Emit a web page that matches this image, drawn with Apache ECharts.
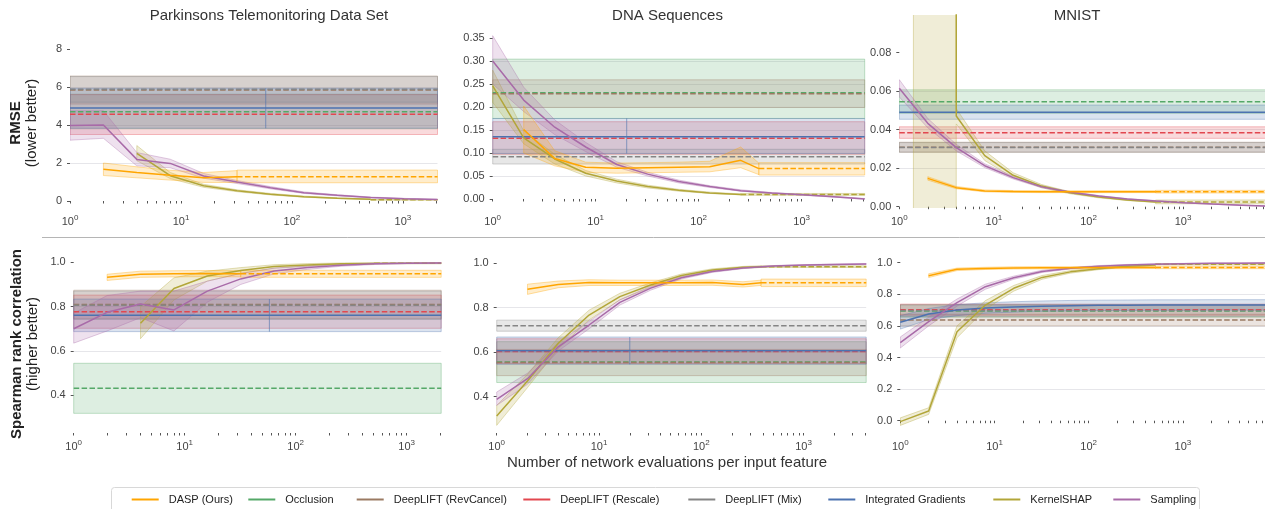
<!DOCTYPE html>
<html><head><meta charset="utf-8">
<script src="https://cdn.jsdelivr.net/npm/echarts@6/dist/echarts.min.js"></script>
<style>html,body{margin:0;padding:0;background:#fff}#c{width:1265px;height:509px}</style>
</head><body><div id="c"></div>
<script>
// ---------- labels ----------
const METHODS = ['DASP (Ours)','Occlusion','DeepLIFT (RevCancel)','DeepLIFT (Rescale)','DeepLIFT (Mix)','Integrated Gradients','KernelSHAP','Sampling'];
const COLORS  = ['#ffa500','#55a868','#9b7a62','#e2474f','#858585','#4c72b0','#b2a639','#a86aa8'];
const TITLES  = ['Parkinsons Telemonitoring Data Set','DNA Sequences','MNIST'];
const X_LABELS = [1,10,100,1000];
const Y_TICKS_PARK_RMSE = [0,2,4,6,8];
const Y_TICKS_DNA_RMSE = [0,0.05,0.10,0.15,0.20,0.25,0.30,0.35];
const Y_TICKS_MNIST_RMSE = [0,0.02,0.04,0.06,0.08];
const Y_TICKS_PARK_SP = [0.4,0.6,0.8,1.0];
const Y_TICKS_DNA_SP = [0.4,0.6,0.8,1.0];
const Y_TICKS_MNIST_SP = [0,0.2,0.4,0.6,0.8,1.0];

// ---------- data: curves rows [x, mean, lo, hi]; extensions [x0, mean, lo, hi]; constants [mean, lo, hi] ----------
// Parkinsons RMSE
const parkRmseDasp = [[2,1.67,1.34,2.0],[4,1.5,1.22,1.8],[8,1.36,1.1,1.62],[16,1.23,0.98,1.5],[32,1.28,0.97,1.6]];
const parkRmseDaspExt = [32,1.28,0.96,1.63];
const parkRmseKshap = [[4,2.51,2.12,2.92],[8,1.33,1.18,1.5],[16,0.8,0.72,0.88],[32,0.54,0.49,0.59],[64,0.36,0.32,0.4],[128,0.23,0.2,0.26],[256,0.15,0.13,0.17],[512,0.09,0.07,0.11]];
const parkRmseKshapExt = [512,0.06,0.04,0.08];
const parkRmseSampling = [[1,3.97,3.2,4.75],[2,4.0,3.3,4.75],[4,2.19,1.85,2.55],[8,1.98,1.75,2.2],[16,1.32,1.2,1.45],[32,1.0,0.92,1.08],[64,0.7,0.64,0.76],[128,0.44,0.4,0.48],[256,0.3,0.27,0.33],[512,0.19,0.17,0.21],[1024,0.12,0.1,0.14],[2048,0.08,0.07,0.09]];
const parkRmseOcc = [4.70,3.8,5.62];
const parkRmseRev = [5.84,5.1,6.58];
const parkRmseRes = [4.56,3.5,5.6];
const parkRmseMix = [5.88,5.2,6.55];
const parkRmseIg  = [4.90,3.83,5.93];
const parkIgSplit = 58;
// DNA RMSE
const dnaRmseDasp = [[2,0.151,0.10,0.202],[4,0.088,0.072,0.105],[8,0.069,0.058,0.08],[16,0.067,0.056,0.078],[32,0.068,0.057,0.079],[64,0.069,0.058,0.08],[128,0.070,0.059,0.082],[256,0.084,0.068,0.113],[384,0.066,0.053,0.078]];
const dnaRmseDaspExt = [384,0.066,0.052,0.079];
const dnaRmseKshap = [[1,0.246,0.21,0.28],[2,0.133,0.12,0.148],[4,0.087,0.076,0.097],[8,0.056,0.05,0.062],[16,0.039,0.035,0.043],[32,0.027,0.024,0.03],[64,0.019,0.017,0.021],[128,0.013,0.012,0.015],[256,0.01,0.009,0.011]];
const dnaRmseKshapExt = [256,0.01,0.008,0.012];
const dnaRmseSampling = [[1,0.300,0.25,0.355],[2,0.215,0.19,0.243],[4,0.156,0.14,0.172],[8,0.113,0.103,0.123],[16,0.075,0.069,0.081],[32,0.054,0.05,0.058],[64,0.038,0.035,0.041],[128,0.027,0.025,0.029],[256,0.018,0.017,0.02],[512,0.013,0.012,0.014],[1024,0.009,0.008,0.01],[2048,0.005,0.004,0.006],[4096,0.0,0.0,0.001]];
const dnaRmseOcc = [0.231,0.175,0.304];
const dnaRmseRev = [0.229,0.199,0.259];
const dnaRmseRes = [0.132,0.097,0.168];
const dnaRmseMix = [0.092,0.076,0.108];
const dnaRmseIg  = [0.135,0.099,0.175];
const dnaIgSplit = 20;
// MNIST RMSE
const mnistRmseDasp = [[2,0.0147,0.0138,0.0156],[4,0.0099,0.0093,0.0105],[8,0.0082,0.0077,0.0087],[16,0.0079,0.0074,0.0084],[32,0.0078,0.0073,0.0083],[64,0.0078,0.0073,0.0083],[128,0.0078,0.0073,0.0083],[256,0.0078,0.0073,0.0083],[512,0.0078,0.0073,0.0083]];
const mnistRmseDaspExt = [512,0.0078,0.0071,0.0085];
const mnistRmseKshap = [[1.41,1000,-1000,3000],[4,0.0471,0.043,0.051],[8,0.0265,0.024,0.029],[16,0.0163,0.015,0.0176],[32,0.0107,0.0099,0.0115],[64,0.0072,0.0067,0.0077],[128,0.005,0.0046,0.0054],[256,0.0035,0.0032,0.0038],[512,0.0025,0.0022,0.0028]];
const mnistRmseKshapExt = [512,0.0025,0.0015,0.0035];
const mnistRmseSampling = [[1,0.0615,0.057,0.066],[2,0.0433,0.041,0.0458],[4,0.0307,0.029,0.0324],[8,0.0213,0.0203,0.0223],[16,0.0151,0.0144,0.0158],[32,0.0103,0.0098,0.0108],[64,0.0075,0.0071,0.0079],[128,0.0055,0.0052,0.0058],[256,0.004,0.0038,0.0042],[512,0.003,0.0028,0.0032],[1024,0.0021,0.0019,0.0023],[2048,0.0014,0.0013,0.0015],[4096,0.0008,0.0007,0.0009],[8192,0.0002,0.0001,0.0003]];
const mnistRmseOcc = [0.0545,0.0485,0.0607];
const mnistRmseRev = [0.0309,0.0283,0.0335];
const mnistRmseRes = [0.0384,0.0355,0.0415];
const mnistRmseMix = [0.0307,0.0283,0.0333];
const mnistRmseIg  = [0.049,0.0454,0.0528];
// Parkinsons Spearman
const parkSpDasp = [[2,0.932,0.918,0.946],[4,0.946,0.932,0.96],[8,0.948,0.934,0.962],[16,0.949,0.935,0.963],[32,0.948,0.934,0.962]];
const parkSpDaspExt = [32,0.948,0.932,0.964];
const parkSpKshap = [[4,0.725,0.655,0.80],[8,0.882,0.83,0.93],[16,0.938,0.915,0.96],[32,0.963,0.95,0.976],[64,0.981,0.973,0.989],[128,0.988,0.982,0.994],[256,0.993,0.989,0.997],[512,0.995,0.992,0.998]];
const parkSpKshapExt = [512,0.996,0.993,0.999];
const parkSpSampling = [[1,0.70,0.635,0.77],[2,0.774,0.69,0.85],[4,0.812,0.75,0.87],[8,0.785,0.69,0.87],[16,0.87,0.82,0.915],[32,0.925,0.9,0.95],[64,0.961,0.948,0.974],[128,0.976,0.968,0.984],[256,0.987,0.982,0.992],[512,0.993,0.99,0.996],[1024,0.996,0.994,0.998],[2048,0.997,0.995,0.999]];
const parkSpOcc = [0.431,0.318,0.544];
const parkSpRev = [0.81,0.746,0.874];
const parkSpRes = [0.777,0.702,0.852];
const parkSpMix = [0.806,0.742,0.870];
const parkSpIg  = [0.761,0.687,0.834];
// DNA Spearman
const dnaSpDasp = [[2,0.883,0.86,0.906],[4,0.905,0.89,0.92],[8,0.913,0.9,0.926],[16,0.912,0.9,0.924],[32,0.912,0.9,0.924],[64,0.912,0.9,0.924],[128,0.913,0.901,0.925],[256,0.905,0.893,0.917],[384,0.912,0.9,0.924]];
const dnaSpDaspExt = [384,0.912,0.895,0.929];
const dnaSpKshap = [[1,0.312,0.27,0.36],[2,0.47,0.44,0.5],[4,0.64,0.615,0.665],[8,0.767,0.745,0.789],[16,0.85,0.835,0.865],[32,0.902,0.892,0.912],[64,0.945,0.938,0.952],[128,0.97,0.965,0.975],[256,0.982,0.978,0.986],[384,0.985,0.981,0.989]];
const dnaSpKshapExt = [384,0.985,0.981,0.989];
const dnaSpSampling = [[1,0.387,0.36,0.42],[2,0.48,0.455,0.505],[4,0.624,0.605,0.643],[8,0.722,0.705,0.739],[16,0.824,0.812,0.836],[32,0.888,0.879,0.897],[64,0.935,0.929,0.941],[128,0.963,0.959,0.967],[256,0.979,0.976,0.982],[512,0.988,0.986,0.99],[1024,0.992,0.99,0.994],[2048,0.995,0.993,0.997],[4096,0.997,0.995,0.999]];
const dnaSpOcc = [0.555,0.463,0.647];
const dnaSpRev = [0.553,0.494,0.612];
const dnaSpRes = [0.603,0.548,0.66];
const dnaSpMix = [0.719,0.694,0.744];
const dnaSpIg  = [0.606,0.545,0.668];
// MNIST Spearman
const mnistSpDasp = [[2,0.918,0.906,0.93],[4,0.958,0.95,0.966],[8,0.964,0.957,0.971],[16,0.967,0.96,0.974],[32,0.968,0.961,0.975],[64,0.968,0.961,0.975],[128,0.969,0.962,0.976],[256,0.969,0.962,0.976],[512,0.97,0.963,0.977]];
const mnistSpDaspExt = [512,0.97,0.962,0.978];
const mnistSpKshap = [[1,-0.006,-0.03,0.018],[2,0.061,0.04,0.082],[4,0.563,0.525,0.6],[8,0.732,0.705,0.76],[16,0.838,0.82,0.856],[32,0.907,0.895,0.919],[64,0.942,0.934,0.95],[128,0.962,0.956,0.968],[256,0.977,0.972,0.982],[512,0.985,0.981,0.989]];
const mnistSpKshapExt = [512,0.99,0.986,0.994];
const mnistSpSampling = [[1,0.494,0.46,0.53],[2,0.627,0.6,0.655],[4,0.747,0.725,0.77],[8,0.848,0.832,0.864],[16,0.905,0.895,0.915],[32,0.945,0.938,0.952],[64,0.965,0.96,0.97],[128,0.978,0.974,0.982],[256,0.986,0.983,0.989],[512,0.991,0.989,0.993],[1024,0.994,0.992,0.996],[2048,0.996,0.995,0.997],[4096,0.997,0.996,0.998],[8192,0.998,0.997,0.999]];
const mnistSpIgCurve = [[1,0.623,0.58,0.665],[2,0.675,0.64,0.71],[4,0.70,0.665,0.735],[8,0.713,0.68,0.746],[16,0.72,0.687,0.753],[32,0.725,0.692,0.758],[64,0.728,0.695,0.761],[128,0.73,0.697,0.763],[256,0.731,0.698,0.764],[512,0.732,0.699,0.765],[1024,0.732,0.699,0.765],[2048,0.733,0.7,0.766],[4096,0.733,0.7,0.766],[8192,0.733,0.7,0.766]];
const mnistSpOcc = [0.694,0.655,0.733];
const mnistSpRev = [0.637,0.600,0.674];
const mnistSpRes = [0.703,0.668,0.738];
const mnistSpMix = [0.697,0.660,0.734];

// ---------- panel table ----------
const PANELS = [
  {grid:{left:70,width:367.5,top:15,height:193}, xMax:2048, yMin:-0.368, yMax:9.789, yTicks:Y_TICKS_PARK_RMSE, dec:0,
   consts:[[1,parkRmseOcc],[2,parkRmseRev],[3,parkRmseRes],[4,parkRmseMix],[5,parkRmseIg]], igSplit:parkIgSplit,
   curves:[[6,parkRmseKshap,parkRmseKshapExt],[7,parkRmseSampling,null],[0,parkRmseDasp,parkRmseDaspExt]]},
  {grid:{left:492.7,width:372,top:15,height:193}, xMax:4096, yMin:-0.0196, yMax:0.3999, yTicks:Y_TICKS_DNA_RMSE, dec:2,
   consts:[[1,dnaRmseOcc],[2,dnaRmseRev],[3,dnaRmseRes],[4,dnaRmseMix],[5,dnaRmseIg]], igSplit:dnaIgSplit,
   curves:[[6,dnaRmseKshap,dnaRmseKshapExt],[7,dnaRmseSampling,null],[0,dnaRmseDasp,dnaRmseDaspExt]]},
  {grid:{left:899.3,width:370.2,top:15,height:193}, xMax:8192, yMin:-0.00068, yMax:0.09958, yTicks:Y_TICKS_MNIST_RMSE, dec:2,
   consts:[[1,mnistRmseOcc],[2,mnistRmseRev],[3,mnistRmseRes],[4,mnistRmseMix],[5,mnistRmseIg]], igSplit:null,
   curves:[[6,mnistRmseKshap,mnistRmseKshapExt],[7,mnistRmseSampling,null],[0,mnistRmseDasp,mnistRmseDaspExt]]},
  {grid:{left:73.7,width:367.5,top:250,height:183}, xMax:2048, yMin:0.2293, yMax:1.0555, yTicks:Y_TICKS_PARK_SP, dec:1,
   consts:[[1,parkSpOcc],[2,parkSpRev],[3,parkSpRes],[4,parkSpMix],[5,parkSpIg]], igSplit:parkIgSplit,
   curves:[[6,parkSpKshap,parkSpKshapExt],[7,parkSpSampling,null],[0,parkSpDasp,parkSpDaspExt]]},
  {grid:{left:496.7,width:369.5,top:250,height:183}, xMax:4096, yMin:0.2356, yMax:1.0599, yTicks:Y_TICKS_DNA_SP, dec:1,
   consts:[[1,dnaSpOcc],[2,dnaSpRev],[3,dnaSpRes],[4,dnaSpMix],[5,dnaSpIg]], igSplit:dnaIgSplit,
   curves:[[6,dnaSpKshap,dnaSpKshapExt],[7,dnaSpSampling,null],[0,dnaSpDasp,dnaSpDaspExt]]},
  {grid:{left:900.3,width:368.6,top:250,height:183}, xMax:8192, yMin:-0.0778, yMax:1.0804, yTicks:Y_TICKS_MNIST_SP, dec:1,
   consts:[[1,mnistSpOcc],[2,mnistSpRev],[3,mnistSpRes],[4,mnistSpMix]], igSplit:null,
   curves:[[5,mnistSpIgCurve,null],[6,mnistSpKshap,mnistSpKshapExt],[7,mnistSpSampling,null],[0,mnistSpDasp,mnistSpDaspExt]]}
];

function rgba(hex,a){const n=parseInt(hex.slice(1),16);return 'rgba('+(n>>16&255)+','+(n>>8&255)+','+(n&255)+','+a+')';}
function minorTicks(xMax){const t=[];for(let d=1;d<=xMax;d*=10){for(let k=1;k<10;k++){if(k*d<=xMax)t.push(k*d);}}return t;}
const DASH=[5.5,2.4];

const grids=[],xAxes=[],yAxes=[],series=[];
PANELS.forEach((p,i)=>{
  grids.push(Object.assign({containLabel:false,outerBoundsMode:'none'},p.grid));
  xAxes.push({type:'log',logBase:10,gridIndex:i,min:1,max:p.xMax,
    axisLine:{show:false},splitLine:{show:false},minorTick:{show:false},
    axisTick:{show:true,customValues:minorTicks(p.xMax),length:2.5,lineStyle:{color:'#555',width:1}},
    axisLabel:{customValues:X_LABELS,fontSize:11,color:'#444',margin:6,
      formatter:v=>'10{s|'+Math.round(Math.log10(v))+'}',
      rich:{s:{fontSize:8,color:'#444',padding:[0,0,7,0]}}}});
  yAxes.push({type:'value',gridIndex:i,min:p.yMin,max:p.yMax,
    axisLine:{show:false},
    axisTick:{show:true,customValues:p.yTicks,length:3,lineStyle:{color:'#555',width:1}},
    axisLabel:{customValues:p.yTicks,fontSize:11,color:'#444',margin:8,formatter:v=>v.toFixed(p.dec)},
    splitLine:{show:true,showMinLine:false,showMaxLine:false,lineStyle:{color:'#e6e6ea',width:1}}});
  const band=(m,rows)=>({type:'custom',name:METHODS[m],xAxisIndex:i,yAxisIndex:i,clip:true,silent:true,z:1,
    itemStyle:{color:COLORS[m]},data:rows,encode:{x:0,y:[1,2]},
    renderItem:(params,api)=>{
      if(params.dataIndexInside!==0)return null;
      const n=params.dataInsideLength,top=[],bot=[];
      for(let k=0;k<n;k++){const x=api.value(0,k);top.push(api.coord([x,api.value(2,k)]));bot.push(api.coord([x,api.value(1,k)]));}
      return {type:'polygon',shape:{points:top.concat(bot.reverse())},style:{fill:rgba(COLORS[m],0.2),stroke:rgba(COLORS[m],0.35),lineWidth:1}};
    }});
  const line=(m,pts,dashed)=>({type:'line',name:METHODS[m],xAxisIndex:i,yAxisIndex:i,data:pts,symbol:'none',showSymbol:false,
    clip:true,silent:true,z:3,animation:false,itemStyle:{color:COLORS[m]},
    lineStyle:{color:COLORS[m],width:1.5,type:dashed?DASH:'solid'}});
  p.consts.forEach(([m,c])=>{
    const segs=(m===5&&p.igSplit)?[[1,p.igSplit],[p.igSplit,p.xMax]]:[[1,p.xMax]];
    segs.forEach(([a,b])=>series.push(band(m,[[a,c[1],c[2]],[b,c[1],c[2]]])));
    series.push(line(m,[[1,c[0]],[p.xMax,c[0]]],m!==5));
  });
  p.curves.forEach(([m,rows,ext])=>{
    series.push(band(m,rows.map(r=>[r[0],r[2],r[3]])));
    if(ext)series.push(band(m,[[ext[0],ext[2],ext[3]],[p.xMax,ext[2],ext[3]]]));
  });
  p.curves.forEach(([m,rows,ext])=>{
    series.push(line(m,rows.map(r=>[r[0],r[1]]),false));
    if(ext)series.push(line(m,[[ext[0],ext[1]],[p.xMax,ext[1]]],true));
  });
});

const LEGEND_LEFT=[131.7,248.3,356.7,523.3,688.3,828.3,993.3,1113.3];
const legends=METHODS.map((name,k)=>({left:LEGEND_LEFT[k],top:494,padding:0,itemWidth:27,itemHeight:2,icon:'rect',
  data:[{name:name,itemStyle:{color:COLORS[k]}}],textStyle:{fontSize:11,color:'#222',padding:[0,0,0,5]}}));

const T={fontFamily:'Liberation Sans, Arial, sans-serif'};
const graphic=[
  {type:'rect',shape:{x:111.5,y:487.5,width:1088,height:40,r:3},style:{fill:'none',stroke:'#d8d8d8',lineWidth:1},z:0},
  {type:'line',shape:{x1:42,y1:237.5,x2:1265,y2:237.5},style:{stroke:'#b5b5b5',lineWidth:1}},
  {type:'text',x:269,y:16,style:Object.assign({text:TITLES[0],fontSize:15,fill:'#333',align:'center',verticalAlign:'middle'},T)},
  {type:'text',x:667.5,y:16,style:Object.assign({text:TITLES[1],fontSize:15,fill:'#333',align:'center',verticalAlign:'middle'},T)},
  {type:'text',x:1077,y:16,style:Object.assign({text:TITLES[2],fontSize:15,fill:'#333',align:'center',verticalAlign:'middle'},T)},
  {type:'text',x:24,y:123,rotation:Math.PI/2,style:Object.assign({text:'{b|RMSE}\n{n|(lower better)}',align:'center',verticalAlign:'middle',
    rich:{b:{fontSize:15,fontWeight:'bold',fill:'#222',lineHeight:16,fontFamily:T.fontFamily},n:{fontSize:15,fill:'#222',lineHeight:16,fontFamily:T.fontFamily}}},T)},
  {type:'text',x:25,y:344,rotation:Math.PI/2,style:Object.assign({text:'{b|Spearman rank correlation}\n{n|(higher better)}',align:'center',verticalAlign:'middle',
    rich:{b:{fontSize:15,fontWeight:'bold',fill:'#222',lineHeight:16,fontFamily:T.fontFamily},n:{fontSize:15,fill:'#222',lineHeight:16,fontFamily:T.fontFamily}}},T)},
  {type:'text',x:667,y:463,style:Object.assign({text:'Number of network evaluations per input feature',fontSize:15,fill:'#333',align:'center',verticalAlign:'middle'},T)}
];

const chart=echarts.init(document.getElementById('c'),null,{renderer:'canvas'});
chart.setOption({animation:false,backgroundColor:'#fff',textStyle:T,
  grid:grids,xAxis:xAxes,yAxis:yAxes,series:series,legend:legends,graphic:graphic});
</script></body></html>
